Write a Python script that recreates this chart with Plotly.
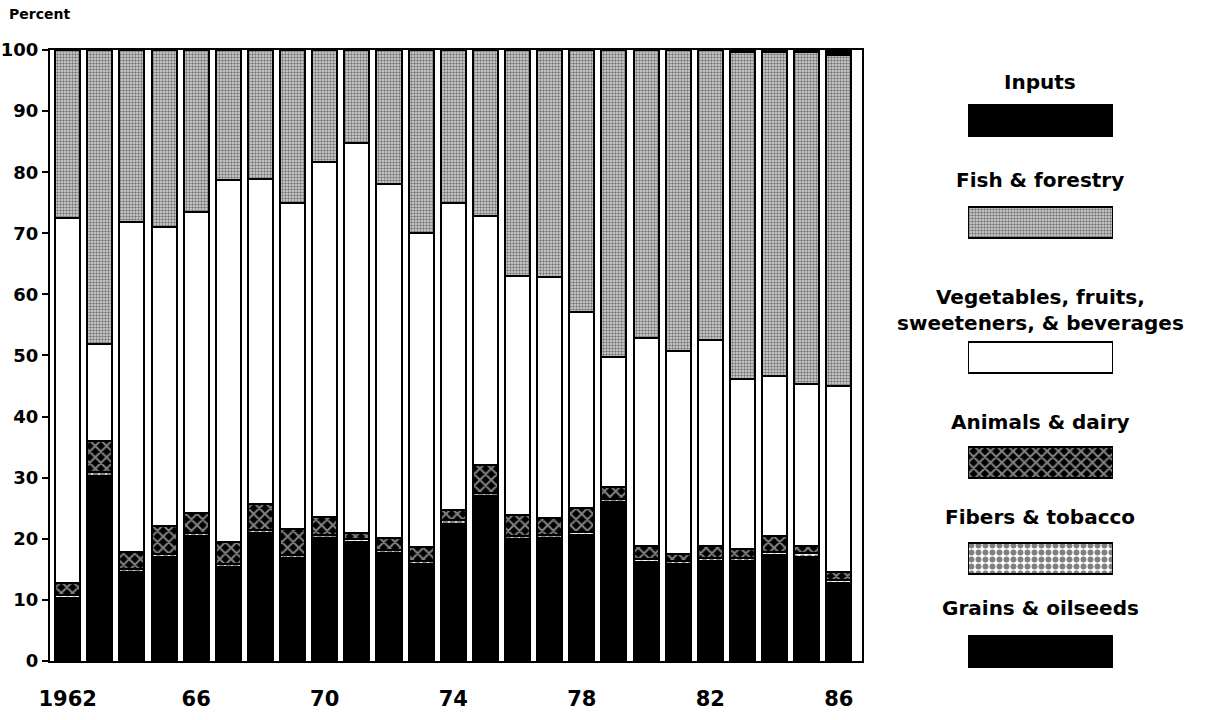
import plotly.graph_objects as go

# shares of trade by commodity group, percent
years = list(range(1962, 1987))
grains = [10.3, 30.2, 14.5, 17.0, 20.5, 15.4, 20.9, 16.9, 20.2, 19.4, 17.7, 15.9, 22.5,
          27.0, 20.0, 20.1, 20.6, 26.0, 16.2, 15.8, 16.3, 16.4, 17.3, 17.1, 12.7]
fibers = [0.5, 0.8, 0.5, 0.5, 0.5, 0.5, 0.5, 0.5, 0.5, 0.5, 0.5, 0.5, 0.5,
          0.5, 0.5, 0.5, 0.5, 0.5, 0.5, 0.5, 0.5, 0.5, 0.5, 0.5, 0.5]
animals = [2.0, 5.0, 2.8, 4.6, 3.2, 3.5, 4.3, 4.2, 2.9, 1.0, 1.9, 2.3, 1.7,
           4.5, 3.4, 2.8, 4.0, 2.0, 2.2, 1.2, 2.0, 1.4, 2.6, 1.3, 1.3]
vegetables = [59.7, 15.8, 54.0, 48.9, 49.3, 59.4, 53.2, 53.3, 58.1, 63.8, 57.9, 51.3, 50.2,
              40.9, 39.1, 39.5, 32.0, 21.3, 34.0, 33.2, 33.7, 27.8, 26.2, 26.5, 30.5]
fish = [27.5, 48.2, 28.2, 29.0, 26.5, 21.2, 21.1, 25.1, 18.3, 15.3, 22.0, 30.0, 25.1,
        27.1, 37.0, 37.1, 42.9, 50.2, 47.1, 49.3, 47.5, 53.6, 53.1, 54.2, 54.2]
inputs = [0, 0, 0, 0, 0, 0, 0, 0, 0, 0, 0, 0, 0,
          0, 0, 0, 0, 0, 0, 0, 0, 0.3, 0.3, 0.4, 0.8]

tick_years = [1962, 1966, 1970, 1974, 1978, 1982, 1986]
tick_text = ['1962', '66', '70', '74', '78', '82', '86']

FONT = "DejaVu Sans"

# name, values, pattern (bottom to top)
series = [
    ("Grains & oilseeds", grains, dict(shape="", bgcolor="black", fgcolor="black")),
    ("Fibers & tobacco", fibers, dict(shape=".", bgcolor="white", fgcolor="black", size=7, solidity=0.55)),
    ("Animals & dairy", animals, dict(shape="x", bgcolor="black", fgcolor="white", size=8, solidity=0.45)),
    ("Vegetables, fruits,<br>sweeteners, & beverages", vegetables, dict(shape="", bgcolor="white", fgcolor="white")),
    ("Fish & forestry", fish, dict(shape=".", bgcolor="#d9d9d9", fgcolor="#111111", size=3, solidity=0.5)),
    ("Inputs", inputs, dict(shape="", bgcolor="black", fgcolor="black")),
]
fill = {"Grains & oilseeds": "black", "Fibers & tobacco": "white", "Animals & dairy": "black",
        "Vegetables, fruits,<br>sweeteners, & beverages": "white", "Fish & forestry": "#d9d9d9",
        "Inputs": "black"}

fig = go.Figure()
for name, vals, pat in series:
    fig.add_trace(go.Bar(x=years, y=vals, name=name, width=0.78,
                         marker=dict(color=fill[name], pattern=pat,
                                     line=dict(color="black", width=2))))

# legend drawn as a small horizontal-bar panel on its own axes (y in pixels)
legend_y = [120, 222, 357.5, 462.5, 558.5, 651]
legend_text_y = [82, 180, 310, 422, 517, 608]
for (name, vals, pat), ly, ty in zip(series[::-1], legend_y, legend_text_y):
    fig.add_trace(go.Bar(x=[1], y=[ly], orientation="h", width=31, base=0,
                         marker=dict(color=fill[name], pattern=pat, line=dict(color="black", width=2)),
                         xaxis="x2", yaxis="y2", hoverinfo="skip"))
    fig.add_annotation(x=0.855, xref="paper", y=ty, yref="y2", text=name, showarrow=False,
                       font=dict(family=FONT, size=20, color="black", weight="bold"),
                       align="center", xanchor="center", yanchor="middle")

fig.add_annotation(x=-0.037, xref="paper", y=1.0, yref="paper", text="Percent", showarrow=False,
                   xanchor="left", yanchor="top", yshift=6,
                   font=dict(family=FONT, size=14, color="black", weight="bold"))

fig.update_layout(
    width=1218, height=720, barmode="stack", bargap=0.2, showlegend=False,
    plot_bgcolor="white", paper_bgcolor="white",
    margin=dict(l=50, r=10, t=10, b=50, autoexpand=False),
    font=dict(family=FONT, color="black"),
    xaxis=dict(domain=[0, 0.7012], range=[1961.45, 1986.72], tickvals=tick_years, ticktext=tick_text,
               showline=True, linecolor="black", linewidth=2, mirror=True, showgrid=False,
               zeroline=False, ticks="", ticklabelstandoff=18, automargin=False,
               tickfont=dict(family=FONT, size=21, weight="bold")),
    yaxis=dict(domain=[0.01364, 0.9394], range=[0, 100], dtick=10, showline=True, linecolor="black",
               linewidth=2, mirror=True, showgrid=False, zeroline=False, ticks="outside",
               ticklen=6, tickwidth=2, tickcolor="black", automargin=False,
               tickfont=dict(family=FONT, size=18, weight="bold")),
    xaxis2=dict(domain=[0.7927, 0.918], range=[0, 1], visible=False, anchor="y2"),
    yaxis2=dict(domain=[0, 1], range=[670, 10], visible=False, anchor="x2"),
)

# drop the browser's default page margin so the figure sits at the window corner
fig.write_html("out.html", config={"displayModeBar": False},
               post_script="document.body.style.margin = '0';")
